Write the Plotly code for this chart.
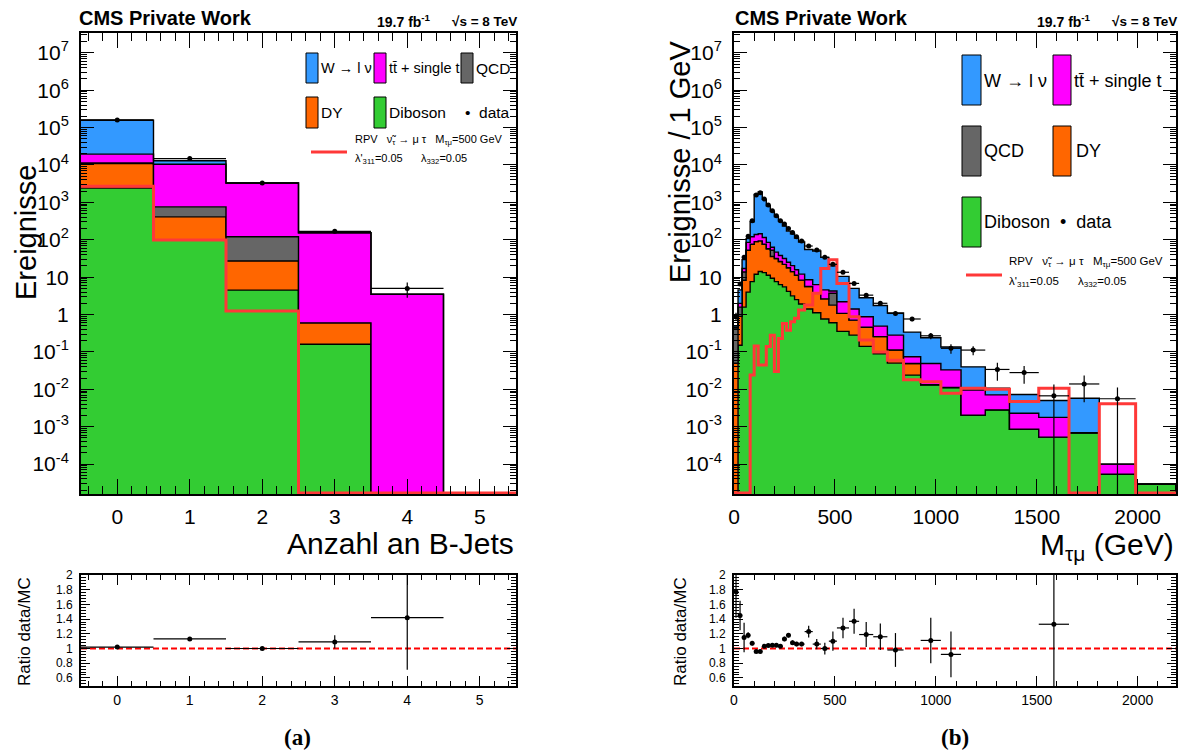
import numpy as np
import plotly.graph_objects as go

# page body margin of 8 px is compensated: figure is placed at (8, 8) in the window
OX, OY = 8, 8
W, H = 1184, 746
FONT = "Liberation Sans"

# ---------------- panel (a): number of b-jets ----------------
a_edges = [-0.5, 0.5, 1.5, 2.5, 3.5, 4.5, 5.5]
a_diboson = [2400, 98, 4.5, 0.16, 0, 0]
a_dy = [8600, 312, 22.5, 0.44, 0, 0]
a_qcd = [300, 350, 93, 0, 0, 0]
a_ttbar = [8200, 9740, 3180, 153.4, 3.5, 0]
a_wjets = [137500, 2500, 0, 0, 0, 0]
a_data = [1.6e5, 1.48e4, 3.3e3, 168, 5.0, None]
a_data_err = [400, 122, 57, 13, 2.2, None]
a_signal = [2700, 98, 1.24, 0, 0, 0]
a_ratio = [1.02, 1.13, 1.00, 1.09, 1.42, None]
a_ratio_err = [0.01, 0.01, 0.02, 0.09, 0.71, None]
a_xticks = [0, 1, 2, 3, 4, 5]

# ---------------- panel (b): M_tau_mu (per GeV) ----------------
b_edges = [0, 20, 40, 60, 80, 100, 120, 140, 160, 180, 200, 220, 240, 260, 280, 300,
           320, 350, 390, 430, 470, 510, 570, 620, 690, 760, 840, 925, 1025, 1125,
           1245, 1365, 1510, 1660, 1810, 1990, 2190]
b_diboson = [0, 0.151, 1.58, 3.98, 7.59, 12.0, 14.1, 13.2, 11.2, 9.33, 7.59, 6.31, 5.50,
             4.17, 3.16, 2.51, 1.91, 1.41, 1.12, 0.759, 0.603, 0.355, 0.282, 0.141,
             0.0891, 0.0501, 0.0240, 0.0132, 0.0112, 0.00204, 0.00282, 0.000851,
             0.000525, 0.000692, 5.37e-5, 2.88e-5]
b_dy = [0.050, 0.74, 6.7, 48.5, 68.3, 77, 79, 62.7, 46.3, 26.2, 24.0, 20.0, 16.4, 13.6,
        10.9, 8.7, 6.4, 4.2, 2.68, 1.87, 1.18, 0.72, 0.426, 0.316, 0.168, 0.062, 0.025,
        0, 0, 0, 0, 0, 0, 0, 0, 0]
b_qcd = [0.387, 0.69, 5.5, 0, 0, 0, 0, 0, 0, 17.0, 0, 0, 0, 0, 0, 0, 0, 0, 0, 0, 1.94,
         0, 0, 0, 0, 0, 0, 0, 0, 0, 0, 0, 0, 0, 0, 0]
b_ttbar = [0.020, 0.41, 3.2, 32.6, 44.3, 48.9, 51.7, 39.1, 27.6, 10.6, 15.2, 11.7, 9.7,
           7.3, 6.3, 4.6, 3.7, 2.89, 2.51, 1.94, 0.55, 1.12, 0.70, 0.414, 0.233, 0.170,
           0.025, 0.0358, 0.0219, 0.00751, 0.00426, 0.00144, 0.00125, 0, 4.6e-5, 0]
b_wjets = [0.044, 2.57, 12.5, 22, 182, 1484, 1760, 1087, 728, 512, 370, 278, 202, 145,
           124, 96, 75, 46.5, 43.8, 29.3, 15.7, 8.3, 3.60, 1.95, 1.25, 0.82, 0.265, 0.191,
           0.102, 0.0303, 0.0036, 0.00495, 0.00323, 0.00506, 0, 0]
b_data = [0.9, 6.6, 34, 125, 323, 1570, 1810, 1230, 850, 600, 440, 323, 263, 200, 157,
          120, 92, 68, 53, 34, 22, 13.5, 6.8, 3.3, 2.0, 1.07, 0.76, 0.27, 0.125, 0.112,
          0.034, 0.028, 0.0067, 0.0139, 0.0056, None]
b_data_err = [0.21, 0.57, 1.3, 2.5, 4.0, 8.9, 9.5, 7.8, 6.5, 5.5, 4.7, 4.0, 3.6, 3.2, 2.8,
              2.4, 1.75, 1.3, 1.15, 0.92, 0.74, 0.47, 0.37, 0.22, 0.17, 0.116, 0.095,
              0.052, 0.035, 0.030, 0.017, 0.014, 0.0067, 0.0094, 0.0056, None]
b_signal = [0, 0, 0, 0, 0.024, 0.144, 0.045, 0.045, 0.14, 0.28, 0.03, 0.23, 0.58, 0.38,
            0.64, 0.79, 1.32, 1.8, 3.7, 17, 29, 6.8, 0.87, 0.21, 0.10, 0.06, 0.018, 0.016,
            0.0078, 0.0107, 0.0100, 0.0047, 0.0107, 0, 0.0041, 0]
b_ratio = [1.77, 1.45, 1.15, 1.18, 1.07, 0.96, 0.96, 1.03, 1.04, 1.045, 1.045, 1.03, 1.13,
           1.18, 1.08, 1.06, 1.06, 1.23, 1.06, 1.00, 1.10, 1.28, 1.37, 1.19, 1.16, 0.98,
           None, 1.11, 0.92, None, None, None, 1.33, None, None, None]
b_ratio_err = [0.35, 0.2, 0.2, 0.04, 0.03, 0.02, 0.02, 0.02, 0.02, 0.02, 0.02, 0.02, 0.03,
               0.03, 0.03, 0.03, 0.03, 0.08, 0.07, 0.08, 0.13, 0.14, 0.17, 0.17, 0.18, 0.23,
               None, 0.31, 0.31, None, None, None, 1.3, None, None, None]
b_xticks = [0, 500, 1000, 1500, 2000]

# ---------------- styling ----------------
COLORS = {"diboson": "#33cc33", "dy": "#ff6600", "qcd": "#666666",
          "ttbar": "#ff00ff", "wjets": "#3399ff"}
SIG_COLOR = "#ff3838"
YMIN, YMAX = -4.80, 7.53
FLOOR = 1e-8
SIG_FLOOR = 10 ** (YMIN + 0.03)


def px_x(p):
    return (p - OX) / W


def px_y(p):
    return 1 - (p - OY) / H


def step_xy(edges, vals, floor):
    v = [x if (x is not None and x > 0) else floor for x in vals]
    xs = list(edges) + [edges[-1]]
    ys = v + [v[-1], floor]
    return xs, ys


fig = go.Figure()


def add_panel(edges, layers, data, data_err, signal, xa, ya):
    names = ["diboson", "dy", "qcd", "ttbar", "wjets"]
    cum = np.cumsum(np.array(layers, dtype=float), axis=0)
    bx, by = step_xy(edges, [0] * (len(edges) - 1), FLOOR)
    fig.add_trace(go.Scatter(x=bx, y=by, mode="lines", line=dict(width=0, shape="hv"),
                             xaxis=xa, yaxis=ya, showlegend=False, hoverinfo="skip"))
    for name, tops in zip(names, cum):
        sx, sy = step_xy(edges, list(tops), FLOOR)
        fig.add_trace(go.Scatter(x=sx, y=sy, mode="lines", fill="tonexty",
                                 fillcolor=COLORS[name],
                                 line=dict(color="black", width=1.4, shape="hv"),
                                 xaxis=xa, yaxis=ya, showlegend=False, name=name))
    sx, sy = step_xy(edges, signal, SIG_FLOOR)
    sy[-1] = SIG_FLOOR
    fig.add_trace(go.Scatter(x=sx, y=sy, mode="lines",
                             line=dict(color=SIG_COLOR, width=3, shape="hv"),
                             xaxis=xa, yaxis=ya, showlegend=False, name="signal"))
    centers = [(edges[i] + edges[i + 1]) / 2 for i in range(len(edges) - 1)]
    halfw = [(edges[i + 1] - edges[i]) / 2 for i in range(len(edges) - 1)]
    ex, ey, ehw, eup, edn = [], [], [], [], []
    for c, hw, d, e in zip(centers, halfw, data, data_err):
        if d is None:
            continue
        ex.append(c)
        ey.append(d)
        ehw.append(hw)
        eup.append(e)
        edn.append(min(e, d * 0.99999))
    fig.add_trace(go.Scatter(x=ex, y=ey, mode="markers",
                             marker=dict(color="black", size=5),
                             error_x=dict(type="data", array=ehw, color="black",
                                          thickness=1.2, width=0),
                             error_y=dict(type="data", array=eup, arrayminus=edn,
                                          symmetric=False, color="black",
                                          thickness=1.2, width=0),
                             xaxis=xa, yaxis=ya, showlegend=False, name="data"))


def add_ratio(edges, ratio, rerr, xa, ya):
    centers = [(edges[i] + edges[i + 1]) / 2 for i in range(len(edges) - 1)]
    halfw = [(edges[i + 1] - edges[i]) / 2 for i in range(len(edges) - 1)]
    fig.add_trace(go.Scatter(x=[edges[0], edges[-1]], y=[1, 1], mode="lines",
                             line=dict(color="#ff0000", width=2, dash="6px,3px"),
                             xaxis=xa, yaxis=ya, showlegend=False, hoverinfo="skip"))
    rx, ry, rhw, re = [], [], [], []
    for c, hw, r, e in zip(centers, halfw, ratio, rerr):
        if r is None:
            continue
        rx.append(c)
        ry.append(r)
        rhw.append(hw)
        re.append(e)
    fig.add_trace(go.Scatter(x=rx, y=ry, mode="markers",
                             marker=dict(color="black", size=5),
                             error_x=dict(type="data", array=rhw, color="black",
                                          thickness=1.2, width=0),
                             error_y=dict(type="data", array=re, color="black",
                                          thickness=1.2, width=0),
                             xaxis=xa, yaxis=ya, showlegend=False, name="ratio"))


add_panel(a_edges, [a_diboson, a_dy, a_qcd, a_ttbar, a_wjets], a_data, a_data_err,
          a_signal, "x", "y")
add_panel(b_edges, [b_diboson, b_dy, b_qcd, b_ttbar, b_wjets], b_data, b_data_err,
          b_signal, "x2", "y2")
add_ratio(a_edges, a_ratio, a_ratio_err, "x3", "y3")
add_ratio(b_edges, b_ratio, b_ratio_err, "x4", "y4")

# ---------------- axes ----------------
LDOM = [px_x(81), px_x(516)]
RDOM = [px_x(734), px_x(1176)]
MDOM = [px_y(494), px_y(33)]
QDOM = [px_y(686), px_y(575)]

common = dict(showline=True, linecolor="black", linewidth=2, mirror="allticks",
              ticks="inside", tickcolor="black", tickwidth=1.3, showgrid=False,
              zeroline=False, automargin=False)

exps = list(range(-4, 8))
ytickvals = [10.0 ** k for k in exps]
yticktext = []
for k in exps:
    if k == 0:
        yticktext.append("1")
    elif k == 1:
        yticktext.append("10")
    else:
        yticktext.append("10<sup>%d</sup>" % k)
yminor = [m * 10.0 ** k for k in range(-5, 8) for m in range(2, 10)]

ylog = dict(common, type="log", range=[YMIN, YMAX], tickmode="array",
            tickvals=ytickvals, ticktext=yticktext, ticklen=13,
            tickfont=dict(family=FONT, size=21, color="black"), ticklabelstandoff=6,
            minor=dict(tickmode="array", tickvals=yminor, ticks="inside", ticklen=6,
                       tickcolor="black", tickwidth=1))

yrat = dict(common, range=[0.49, 2.0], tickmode="array",
            tickvals=[0.6, 0.8, 1.0, 1.2, 1.4, 1.6, 1.8, 2.0],
            ticktext=["0.6", "0.8", "1", "1.2", "1.4", "1.6", "1.8", "2"], ticklen=9,
            tickfont=dict(family=FONT, size=12, color="black"), ticklabelstandoff=4,
            minor=dict(dtick=0.04, tick0=0, ticks="inside", ticklen=5,
                       tickcolor="black", tickwidth=1))

fig.update_layout(
    xaxis=dict(common, domain=LDOM, anchor="y", range=[-0.5, 5.5], tickmode="array",
               tickvals=a_xticks, ticklen=15, ticklabelstandoff=3,
               tickfont=dict(family=FONT, size=21, color="black"),
               minor=dict(dtick=0.2, tick0=0, ticks="inside", ticklen=8,
                          tickcolor="black", tickwidth=1)),
    yaxis=dict(ylog, domain=MDOM, anchor="x"),
    xaxis2=dict(common, domain=RDOM, anchor="y2", range=[0, 2190], tickmode="array",
                tickvals=b_xticks, ticklen=15, ticklabelstandoff=3,
                tickfont=dict(family=FONT, size=21, color="black"),
                minor=dict(dtick=100, tick0=0, ticks="inside", ticklen=8,
                           tickcolor="black", tickwidth=1)),
    yaxis2=dict(ylog, domain=MDOM, anchor="x2"),
    xaxis3=dict(common, domain=LDOM, anchor="y3", range=[-0.5, 5.5], tickmode="array",
                tickvals=a_xticks, ticklen=10, ticklabelstandoff=0,
                tickfont=dict(family=FONT, size=14, color="black"),
                minor=dict(dtick=0.2, tick0=0, ticks="inside", ticklen=5,
                           tickcolor="black", tickwidth=1)),
    yaxis3=dict(yrat, domain=QDOM, anchor="x3"),
    xaxis4=dict(common, domain=RDOM, anchor="y4", range=[0, 2190], tickmode="array",
                tickvals=b_xticks, ticklen=10, ticklabelstandoff=0,
                tickfont=dict(family=FONT, size=14, color="black"),
                minor=dict(dtick=100, tick0=0, ticks="inside", ticklen=5,
                           tickcolor="black", tickwidth=1)),
    yaxis4=dict(yrat, domain=QDOM, anchor="x4"),
    width=W, height=H, autosize=False, margin=dict(l=0, r=0, t=0, b=0, pad=0),
    paper_bgcolor="white", plot_bgcolor="white", showlegend=False,
)

# ---------------- text & legends ----------------
annotations = []
shapes = []


def ann(text, x, y, size, xanchor="left", yanchor="middle", bold=False, family=FONT,
        angle=0):
    if bold:
        text = "<b>" + text + "</b>"
    annotations.append(dict(text=text, x=px_x(x), y=px_y(y), xref="paper", yref="paper",
                            xanchor=xanchor, yanchor=yanchor, showarrow=False,
                            textangle=angle,
                            font=dict(family=family, size=size, color="black")))


def box(x0, y0, x1, y1, color):
    shapes.append(dict(type="rect", xref="paper", yref="paper", x0=px_x(x0), x1=px_x(x1),
                       y0=px_y(y1), y1=px_y(y0), fillcolor=color,
                       line=dict(color="black", width=1)))


def redline(x0, x1, y):
    shapes.append(dict(type="line", xref="paper", yref="paper", x0=px_x(x0), x1=px_x(x1),
                       y0=px_y(y), y1=px_y(y), line=dict(color=SIG_COLOR, width=3)))


for x0, x1 in [(77, 516), (733, 1176)]:
    ann("CMS Private Work", x0, 18, 20, bold=True)
    ann("19.7 fb<sup>-1</sup>", x1 - 141, 21, 14, bold=True)
    ann("√s = 8 TeV", x1 - 66, 21, 13.5, bold=True)

# y titles
ann("Ereignisse", 26, 233, 29, xanchor="center", angle=-90)
ann("Ereignisse / 1 GeV", 680, 162, 29, xanchor="center", angle=-90)
ann("Ratio data/MC", 24, 632, 17, xanchor="center", angle=-90)
ann("Ratio data/MC", 680, 632, 17, xanchor="center", angle=-90)
# x titles
ann("Anzahl an B-Jets", 516, 543, 30, xanchor="right")
ann("M<sub>τμ</sub> (GeV)", 1176, 546, 30, xanchor="right")
# captions
ann("(a)", 297, 737, 23, xanchor="center", bold=True, family="Liberation Serif")
ann("(b)", 955, 737, 23, xanchor="center", bold=True, family="Liberation Serif")

# legend (a)
box(306, 53, 318, 83, COLORS["wjets"])
ann("W → l ν", 319, 68, 14.5)
box(374, 53, 386, 83, COLORS["ttbar"])
ann("tt̄ + single t", 387, 68, 14.5)
box(461, 53, 473, 83, COLORS["qcd"])
ann("QCD", 474, 68, 15.5)
box(306, 97, 318, 128, COLORS["dy"])
ann("DY", 319, 113, 15.5)
box(374, 97, 386, 128, COLORS["diboson"])
ann("Diboson", 387, 113, 15.5)
ann("•  data", 463, 113, 15.5)
redline(311, 347, 152)
ann("RPV   ν̃<sub>τ</sub> → μ τ   M<sub>τμ</sub>=500 GeV", 353, 140, 11)
ann("λ'<sub>311</sub>=0.05      λ<sub>332</sub>=0.05", 353, 159, 11)

# legend (b)
box(962, 55, 981, 105, COLORS["wjets"])
ann("W → l ν", 982, 81, 18)
box(1053, 55, 1071, 105, COLORS["ttbar"])
ann("tt̄ + single t", 1072, 81, 18)
box(962, 126, 981, 176, COLORS["qcd"])
ann("QCD", 982, 151, 18)
box(1053, 126, 1071, 176, COLORS["dy"])
ann("DY", 1074, 151, 18)
box(962, 197, 981, 247, COLORS["diboson"])
ann("Diboson  •  data", 982, 222, 18)
redline(966, 1002, 275)
ann("RPV   ν̃<sub>τ</sub> → μ τ   M<sub>τμ</sub>=500 GeV", 1007, 262, 11.5)
ann("λ'<sub>311</sub>=0.05      λ<sub>332</sub>=0.05", 1007, 282, 11.5)

fig.update_layout(annotations=annotations, shapes=shapes)
fig.write_html("out.html")
